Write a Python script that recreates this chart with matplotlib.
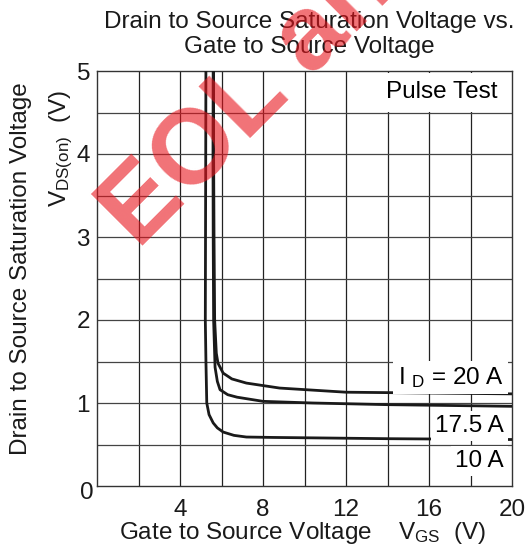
import matplotlib
matplotlib.use("Agg")
import matplotlib.pyplot as plt

plt.rcParams['font.family'] = ['Liberation Sans', 'DejaVu Sans']
plt.rcParams['mathtext.fontset'] = 'custom'
plt.rcParams['mathtext.rm'] = 'Liberation Sans'
plt.rcParams['mathtext.it'] = 'Liberation Sans:italic'

# data (VGS in V, VDS(on) in V)
vgs_10 = [5.25, 5.24, 5.23, 5.22, 5.25, 5.29, 5.4, 5.6, 5.8, 6.08, 6.6, 7.2, 8.5, 10.4, 14, 20]
vds_10 = [5.2, 4.0, 3.0, 2.0, 1.5, 1.0, 0.86, 0.76, 0.7, 0.65, 0.61, 0.59, 0.585, 0.58, 0.57, 0.56]

vgs_175 = [5.6, 5.59, 5.6, 5.62, 5.69, 5.8, 5.93, 6.3, 6.75, 8.0, 10.4, 14, 20]
vds_175 = [5.2, 4.0, 3.0, 2.0, 1.43, 1.26, 1.16, 1.1, 1.07, 1.02, 1.0, 0.98, 0.96]

vgs_20 = [5.62, 5.62, 5.64, 5.67, 5.75, 5.83, 6.08, 6.5, 7.2, 8.8, 12, 16, 20]
vds_20 = [5.2, 4.0, 3.0, 2.0, 1.6, 1.48, 1.36, 1.29, 1.24, 1.18, 1.13, 1.12, 1.11]

x_ticks = [4, 8, 12, 16, 20]
y_ticks = [1, 2, 3, 4, 5]

FS = 17.5
W, H = 528, 560
fig = plt.figure(figsize=(W / 100, H / 100), dpi=100)
ax = fig.add_axes([97 / W, 1 - 486 / H, (512 - 97) / W, (486 - 71) / H])

ax.set_xlim(0, 20)
ax.set_ylim(0, 5)
for v in range(2, 20, 2):
    ax.axvline(v, color='#222222', lw=0.9, zorder=1)
for v in [0.5, 1, 1.5, 2, 2.5, 3, 3.5, 4, 4.5]:
    ax.axhline(v, color='#444444', lw=0.9, zorder=1)

for xs, ys in [(vgs_10, vds_10), (vgs_175, vds_175), (vgs_20, vds_20)]:
    ax.plot(xs, ys, color='#1a1a1a', lw=2.0, zorder=3, solid_capstyle='butt')

for s in ax.spines.values():
    s.set_color('#333333')
    s.set_linewidth(1.0)

ax.set_xticks(x_ticks)
ax.set_yticks(y_ticks)
ax.tick_params(axis='x', length=0, pad=9, labelsize=FS, colors='#1a1a1a')
ax.tick_params(axis='y', length=0, pad=5, labelsize=FS, colors='#1a1a1a')

box = dict(facecolor='white', edgecolor='none', boxstyle='square,pad=0.18')
ax.text(19.28, 4.67, 'Pulse Test', ha='right', va='baseline', fontsize=FS,
        bbox=dict(facecolor='white', edgecolor='none', boxstyle='square,pad=0.35'), zorder=4)
ax.text(19.6, (486 - 384) / 83, r'I $_\mathrm{D}$ = 20 A', ha='right', va='baseline', fontsize=FS, bbox=box, zorder=4)
ax.text(19.6, (486 - 432) / 83, '17.5 A', ha='right', va='baseline', fontsize=FS, bbox=box, zorder=4)
ax.text(19.6, (486 - 467) / 83, '10 A', ha='right', va='baseline', fontsize=FS, bbox=box, zorder=4)

fig.text(87 / W, 1 - 499 / H, '0', ha='center', va='baseline', fontsize=FS, color='#1a1a1a')

fig.text(309 / W, 1 - 28 / H, 'Drain to Source Saturation Voltage vs.', ha='center', va='baseline',
         fontsize=FS, color='#1a1a1a')
fig.text(309 / W, 1 - 53 / H, 'Gate to Source Voltage', ha='center', va='baseline',
         fontsize=FS, color='#1a1a1a')
fig.text(302 / W, 1 - 539 / H, r'Gate to Source Voltage    V$_\mathrm{GS}$  (V)', ha='center',
         va='baseline', fontsize=FS, color='#1a1a1a')
fig.text(27 / W, 1 - 268.5 / H, 'Drain to Source Saturation Voltage', ha='center', va='baseline',
         rotation=90, rotation_mode='anchor', fontsize=FS, color='#1a1a1a')
fig.text(66 / W, 1 - 148.5 / H, r'V$_\mathrm{DS(on)}$  (V)', ha='center', va='baseline',
         rotation=90, rotation_mode='anchor', fontsize=FS, color='#1a1a1a')

# watermark
fig.text(138 / W, 1 - 250 / H, 'EOL announced', rotation=45, rotation_mode='anchor',
         ha='left', va='baseline', fontsize=76, fontweight='bold', color='#e8141c',
         alpha=0.6, zorder=10)

fig.savefig('out.png', dpi=100)
